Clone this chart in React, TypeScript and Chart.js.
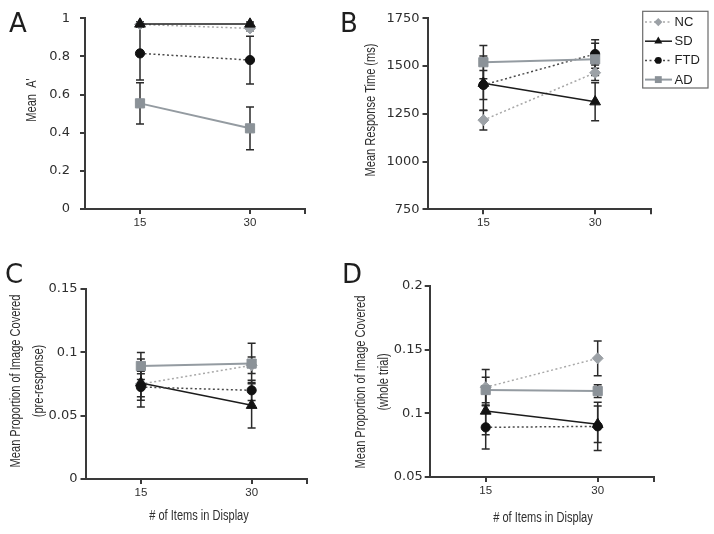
import React, { useEffect, useRef } from 'react';
import { Chart, registerables } from 'chart.js';

Chart.register(...registerables);

// ---------- data ----------
const xValues = [15, 30];
const xTickValues = [15, 30, 37.5];
const xTickLabels = ['15', '30', ''];
const seriesNames = ['NC', 'SD', 'FTD', 'AD'];

// Panel A: Mean A'
const aTicks = [0, 0.2, 0.4, 0.6, 0.8, 1];
const aTickLabels = ['0', '0.2', '0.4', '0.6', '0.8', '1'];
const aNC = [0.968, 0.947];
const aNCErr = [0.012, 0.012];
const aSD = [0.97, 0.97];
const aSDErr = [0.01, 0.01];
const aFTD = [0.816, 0.781];
const aFTDErr = [0.14, 0.125];
const aAD = [0.554, 0.423];
const aADErr = [0.108, 0.112];

// Panel B: Mean Response Time (ms)
const bTicks = [750, 1000, 1250, 1500, 1750];
const bTickLabels = ['750', '1000', '1250', '1500', '1750'];
const bNC = [1217, 1465];
const bNCErr = [52, 40];
const bSD = [1410, 1313];
const bSDErr = [143, 100];
const bFTD = [1401, 1563];
const bFTDErr = [76, 75];
const bAD = [1520, 1535];
const bADErr = [87, 85];

// Panel C: proportion covered (pre-response)
const cTicks = [0, 0.05, 0.1, 0.15];
const cTickLabels = ['0', '0.05', '0.1', '0.15'];
const cNC = [0.075, 0.0898];
const cNCErr = [0.01, 0.0065];
const cSD = [0.0758, 0.0582];
const cSDErr = [0.019, 0.018];
const cFTD = [0.0726, 0.07];
const cFTDErr = [0.0105, 0.008];
const cAD = [0.0892, 0.0911];
const cADErr = [0.0106, 0.016];

// Panel D: proportion covered (whole trial)
const dTicks = [0.05, 0.1, 0.15, 0.2];
const dTickLabels = ['0.05', '0.1', '0.15', '0.2'];
const dNC = [0.1205, 0.1432];
const dNCErr = [0.014, 0.0136];
const dSD = [0.1018, 0.0914];
const dSDErr = [0.0186, 0.0144];
const dFTD = [0.089, 0.0898];
const dFTDErr = [0.017, 0.019];
const dAD = [0.1183, 0.1175];
const dADErr = [0.01, 0.005];

// ---------- styles ----------
const AXIS = '#3a3a3a';
const TEXT = '#2e2e2e';
const ERR = '#2a2a2a';
const SANS = "'Liberation Sans', Arial, sans-serif";
const WIDE = "'DejaVu Sans', sans-serif";
const TITLE_SIZE = 14;
const TITLE_SQUEEZE = 0.79;

const seriesStyles = [
  { line: '#a9a9a9', dash: [2, 2.5], width: 1.5, point: 'rectRot', r: 5.5, fill: '#9ca1a6', order: 3 },
  { line: '#1c1c1c', dash: [], width: 1.5, point: 'triangle', r: 6.2, fill: '#141414', order: 2 },
  { line: '#4a4a4a', dash: [2, 2.5], width: 1.5, point: 'circle', r: 4.6, fill: '#111111', order: 1 },
  { line: '#949ba1', dash: [], width: 2, point: 'rect', r: 6.5, fill: '#8b9298', order: 0 },
];

type Panel = {
  key: string;
  yMin: number; yMax: number;
  yTicks: number[]; yLabels: string[];
  series: number[][]; errs: number[][];
  yTitle: string[]; xTitle: string | null;
  layout: {
    left: number; right: number; top: number; bottom: number; padLeft: number; xH: number; yTickPad: number;
    yTitleX: number[]; yTitleY: number; xTitleX: number; xTitleY: number;
  };
  legend: boolean;
};

const panels: Panel[] = [
  {
    key: 'A', yMin: 0, yMax: 1, yTicks: aTicks, yLabels: aTickLabels,
    series: [aNC, aSD, aFTD, aAD], errs: [aNCErr, aSDErr, aFTDErr, aADErr],
    yTitle: ["Mean  A'"], xTitle: null,
    layout: { left: 85, right: 305, top: 18.3, bottom: 209, padLeft: 10, xH: 30, yTickPad: 10,
      yTitleX: [32], yTitleY: 100, xTitleX: 0, xTitleY: 0 },
    legend: false,
  },
  {
    key: 'B', yMin: 750, yMax: 1750, yTicks: bTicks, yLabels: bTickLabels,
    series: [bNC, bSD, bFTD, bAD], errs: [bNCErr, bSDErr, bFTDErr, bADErr],
    yTitle: ['Mean Response Time (ms)'], xTitle: null,
    layout: { left: 427.5, right: 651, top: 18.3, bottom: 209.3, padLeft: 360, xH: 30, yTickPad: 3,
      yTitleX: [371], yTitleY: 110, xTitleX: 0, xTitleY: 0 },
    legend: true,
  },
  {
    key: 'C', yMin: 0, yMax: 0.15, yTicks: cTicks, yLabels: cTickLabels,
    series: [cNC, cSD, cFTD, cAD], errs: [cNCErr, cSDErr, cFTDErr, cADErr],
    yTitle: ['Mean Proportion of Image Covered', '(pre-response)'], xTitle: '# of Items in Display',
    layout: { left: 85.5, right: 307, top: 289, bottom: 479, padLeft: 2, xH: 46, yTickPad: 3,
      yTitleX: [16, 39], yTitleY: 381, xTitleX: 199, xTitleY: 516 },
    legend: false,
  },
  {
    key: 'D', yMin: 0.05, yMax: 0.2, yTicks: dTicks, yLabels: dTickLabels,
    series: [dNC, dSD, dFTD, dAD], errs: [dNCErr, dSDErr, dFTDErr, dADErr],
    yTitle: ['Mean Proportion of Image Covered', '(whole trial)'], xTitle: '# of Items in Display',
    layout: { left: 429.7, right: 653.7, top: 286, bottom: 477, padLeft: 347, xH: 49.6, yTickPad: 2,
      yTitleX: [361, 384], yTitleY: 382, xTitleX: 543, xTitleY: 518 },
    legend: false,
  },
];

const letters = [
  { t: 'A', left: 9, top: 10 },
  { t: 'B', left: 340, top: 10 },
  { t: 'C', left: 5, top: 261 },
  { t: 'D', left: 342, top: 261 },
];

// ---------- plugins ----------
function drawMarker(ctx: CanvasRenderingContext2D, style: string, x: number, y: number, r: number, color: string) {
  ctx.fillStyle = color;
  ctx.beginPath();
  if (style === 'triangle') {
    ctx.moveTo(x, y - r);
    ctx.lineTo(x + r * 0.866, y + r * 0.5);
    ctx.lineTo(x - r * 0.866, y + r * 0.5);
  } else if (style === 'rectRot') {
    ctx.moveTo(x, y - r); ctx.lineTo(x + r, y); ctx.lineTo(x, y + r); ctx.lineTo(x - r, y);
  } else if (style === 'rect') {
    const s = r * 0.7071;
    ctx.rect(x - s, y - s, 2 * s, 2 * s);
  } else {
    ctx.arc(x, y, r, 0, Math.PI * 2);
  }
  ctx.closePath();
  ctx.fill();
}

const errorBarPlugin = {
  id: 'errorBars',
  beforeDatasetsDraw(chart: any) {
    const { ctx } = chart;
    const xs = chart.scales.x;
    const ys = chart.scales.y;
    ctx.save();
    ctx.strokeStyle = ERR;
    ctx.lineWidth = 1.5;
    chart.data.datasets.forEach((ds: any) => {
      const errs: number[] = ds.errorBars;
      if (!errs) return;
      ds.data.forEach((pt: any, j: number) => {
        const px = xs.getPixelForValue(pt.x);
        const top = ys.getPixelForValue(pt.y + errs[j]);
        const bot = ys.getPixelForValue(pt.y - errs[j]);
        ctx.beginPath();
        ctx.moveTo(px, top); ctx.lineTo(px, bot);
        ctx.moveTo(px - 4, top); ctx.lineTo(px + 4, top);
        ctx.moveTo(px - 4, bot); ctx.lineTo(px + 4, bot);
        ctx.stroke();
      });
    });
    ctx.restore();
  },
};

const axisTitlePlugin = {
  id: 'axisTitles',
  afterDraw(chart: any, _args: any, opts: any) {
    if (!opts) return;
    const { ctx } = chart;
    ctx.save();
    ctx.fillStyle = TEXT;
    ctx.font = `${TITLE_SIZE}px ${SANS}`;
    ctx.textAlign = 'center';
    ctx.textBaseline = 'middle';
    (opts.yLines || []).forEach((line: string, i: number) => {
      ctx.save();
      ctx.translate(opts.yX[i], opts.yY);
      ctx.rotate(-Math.PI / 2);
      ctx.scale(TITLE_SQUEEZE, 1);
      ctx.fillText(line, 0, 0);
      ctx.restore();
    });
    if (opts.xText) {
      ctx.save();
      ctx.translate(opts.xX, opts.xY);
      ctx.scale(TITLE_SQUEEZE, 1);
      ctx.fillText(opts.xText, 0, 0);
      ctx.restore();
    }
    ctx.restore();
  },
};

const boxLegendPlugin = {
  id: 'boxLegend',
  afterDraw(chart: any, _args: any, opts: any) {
    if (!opts || !opts.show) return;
    const { ctx } = chart;
    const bx = 642.7, by = 11.3, bw = 65.3, bh = 76.7;
    ctx.save();
    ctx.strokeStyle = '#6a6a6a';
    ctx.lineWidth = 1.2;
    ctx.strokeRect(bx, by, bw, bh);
    ctx.font = `13px ${SANS}`;
    ctx.textBaseline = 'middle';
    ctx.textAlign = 'left';
    seriesNames.forEach((name, i) => {
      const st = seriesStyles[i];
      const y = 22 + i * 19.2;
      ctx.strokeStyle = st.line;
      ctx.lineWidth = st.width;
      ctx.setLineDash(st.dash);
      ctx.beginPath();
      ctx.moveTo(645, y); ctx.lineTo(672, y);
      ctx.stroke();
      ctx.setLineDash([]);
      drawMarker(ctx, st.point, 658.3, y, st.r * 0.75, st.fill);
      ctx.fillStyle = '#222';
      ctx.fillText(name, 674.5, y + 0.5);
    });
    ctx.restore();
  },
};

// ---------- chart config ----------
function makeConfig(p: Panel): any {
  const L = p.layout;
  const datasets = seriesNames.map((name, i) => {
    const st = seriesStyles[i];
    return {
      label: name,
      data: xValues.map((xv, k) => ({ x: xv, y: p.series[i][k] })),
      errorBars: p.errs[i],
      borderColor: st.line,
      borderWidth: st.width,
      borderDash: st.dash,
      pointStyle: st.point,
      pointRadius: st.r,
      pointBackgroundColor: st.fill,
      pointBorderColor: st.fill,
      pointBorderWidth: 1,
      fill: false,
      tension: 0,
      clip: false,
      order: st.order,
    };
  });
  return {
    type: 'line',
    data: { datasets },
    plugins: [errorBarPlugin, axisTitlePlugin, boxLegendPlugin],
    options: {
      responsive: false,
      animation: false,
      events: [],
      devicePixelRatio: 1,
      layout: {
        padding: {
          left: L.padLeft,
          right: 714 - L.right,
          top: L.top,
          bottom: 534 - L.bottom - L.xH,
        },
      },
      plugins: {
        legend: { display: false },
        tooltip: { enabled: false },
        boxLegend: { show: p.legend },
        axisTitles: {
          yLines: p.yTitle, yX: L.yTitleX, yY: L.yTitleY,
          xText: p.xTitle, xX: L.xTitleX, xY: L.xTitleY,
        },
      },
      scales: {
        x: {
          type: 'linear',
          min: 7.5,
          max: 37.5,
          afterBuildTicks: (s: any) => { s.ticks = xTickValues.map((v) => ({ value: v })); },
          afterFit: (s: any) => { s.height = L.xH; },
          ticks: {
            autoSkip: false,
            maxRotation: 0,
            padding: 2,
            color: TEXT,
            font: { family: SANS, size: 11.5 },
            callback: (_v: any, i: number) => xTickLabels[i],
          },
          grid: { display: true, drawOnChartArea: false, drawTicks: true, tickLength: 5, color: AXIS, lineWidth: 2 },
          border: { display: true, color: AXIS, width: 2 },
          title: { display: false },
        },
        y: {
          type: 'linear',
          min: p.yMin,
          max: p.yMax,
          afterBuildTicks: (s: any) => { s.ticks = p.yTicks.map((v) => ({ value: v })); },
          afterFit: (s: any) => { s.width = L.left - L.padLeft; },
          ticks: {
            autoSkip: false,
            padding: L.yTickPad,
            color: TEXT,
            font: { family: WIDE, size: 13 },
            callback: (_v: any, i: number) => p.yLabels[i],
          },
          grid: { display: true, drawOnChartArea: false, drawTicks: true, tickLength: 5, color: AXIS, lineWidth: 2 },
          border: { display: true, color: AXIS, width: 2 },
          title: { display: false },
        },
      },
    },
  };
}

function PanelChart({ panel }: { panel: Panel }) {
  const ref = useRef<HTMLCanvasElement | null>(null);
  useEffect(() => {
    if (!ref.current) return;
    const chart = new Chart(ref.current, makeConfig(panel));
    return () => chart.destroy();
  }, [panel]);
  return (
    <canvas
      ref={ref}
      width={714}
      height={534}
      style={{ position: 'absolute', left: 0, top: 0, width: 714, height: 534 }}
    />
  );
}

export default function App() {
  return (
    <div style={{ position: 'absolute', left: 0, top: 0, width: 714, height: 534, background: '#ffffff', overflow: 'hidden' }}>
      {panels.map((p) => (
        <PanelChart key={p.key} panel={p} />
      ))}
      {letters.map((l) => (
        <div
          key={l.t}
          style={{
            position: 'absolute', left: l.left, top: l.top, fontFamily: WIDE, fontSize: 26,
            lineHeight: '26px', color: '#1e1e1e', pointerEvents: 'none',
          }}
        >
          {l.t}
        </div>
      ))}
    </div>
  );
}
